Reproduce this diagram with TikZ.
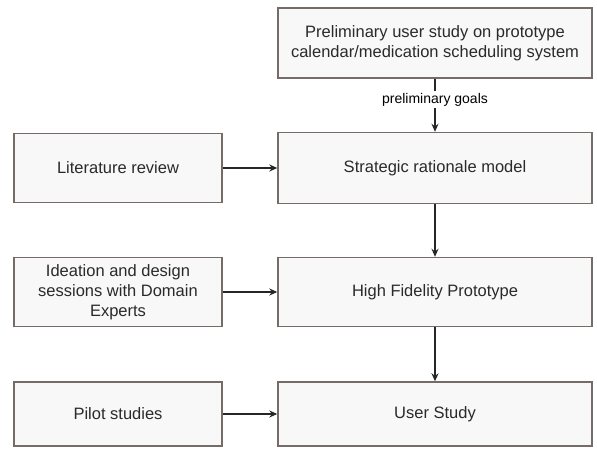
\documentclass[tikz,border=0pt]{standalone}
\usepackage{fontspec}
\setmainfont{Liberation Sans}
\usetikzlibrary{arrows.meta}
\definecolor{boxline}{HTML}{766C67}
\definecolor{boxfill}{HTML}{F7F8F7}
\definecolor{txt}{HTML}{2A2A2A}
\begin{document}
\begin{tikzpicture}[x=1pt,y=-1pt,
  stepbox/.style={draw=boxline,fill=boxfill,line width=1.4pt,text=txt,
    align=center,font=\fontsize{16.5}{20}\selectfont,inner sep=0pt},
  rbox/.style={stepbox,minimum width=314pt},
  lbox/.style={stepbox,minimum width=208pt},
  conn/.style={line width=1.4pt,draw=black!85,-{Stealth[length=8pt,width=7pt]}}]
\useasboundingbox[fill=white] (0,0) rectangle (597,452);
\node[rbox,minimum height=70pt] (top) at (435,43) {Preliminary user study on prototype\\calendar/medication scheduling system};
\node[rbox,minimum height=71pt] (strat) at (435,168) {Strategic rationale model};
\node[rbox,minimum height=69pt] (hfp) at (435,292) {High Fidelity Prototype};
\node[rbox,minimum height=64pt] (us) at (435,414) {User Study};
\node[lbox,minimum height=69pt] (lit) at (118,168) {Literature review};
\node[lbox,minimum height=69pt] (idea) at (118,292) {Ideation and design\\sessions with Domain\\Experts};
\node[lbox,minimum height=64pt] (pilot) at (118,414) {Pilot studies};
\draw[conn] (top) -- node[pos=0.4,fill=white,inner sep=2pt,text=black,font=\fontsize{14}{16}\selectfont] {preliminary goals} (strat);
\draw[conn] (strat) -- (hfp);
\draw[conn] (hfp) -- (us);
\draw[conn] (lit) -- (strat);
\draw[conn] (idea) -- (hfp);
\draw[conn] (pilot) -- (us);
\end{tikzpicture}
\end{document}
